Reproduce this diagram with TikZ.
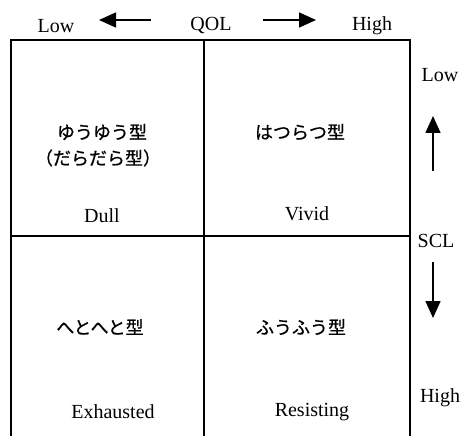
\documentclass[tikz,border=0pt]{standalone}
\usepackage{fontspec}
\setmainfont{Liberation Serif}
\newfontfamily\jp[FakeBold=0.8]{Noto Sans CJK JP}
\usetikzlibrary{arrows.meta}
\begin{document}
\begin{tikzpicture}[x=1pt,y=-1pt,
  frame/.style={line width=1.6pt},
  axarrow/.style={line width=1.6pt,-{Triangle[length=17pt,width=15pt]}},
  lab/.style={font=\fontsize{20}{22}\selectfont,inner sep=0pt},
  jlab/.style={font=\jp\fontsize{18}{22}\selectfont,inner sep=0pt,align=center}]
\useasboundingbox (0,0) rectangle (464,436);
% frame
\coordinate (tl) at (11,40);
\coordinate (tr) at (410,40);
\coordinate (bl) at (11,436);
\coordinate (br) at (410,436);
\coordinate (tm) at (204,40);
\coordinate (bm) at (204,436);
\coordinate (ml) at (11,236);
\coordinate (mr) at (410,236);
\draw[frame] (bl) -- (tl) -- (tr) -- (br);
\draw[frame] (tm) -- (bm);
\draw[frame] (ml) -- (mr);
% top axis
\node[lab] (qlow) at (56,26) {Low};
\node[lab] (qol) at (211,26) {QOL};
\node[lab] (qhigh) at (372,26) {High};
\coordinate (la0) at (151,20);
\coordinate (la1) at (99,20);
\coordinate (ra0) at (263,20);
\coordinate (ra1) at (316,20);
\draw[axarrow] (la0) -- (la1);
\draw[axarrow] (ra0) -- (ra1);
% right axis
\node[lab] (slow) at (440,75) {Low};
\node[lab] (scl) at (436,241) {SCL};
\node[lab] (shigh) at (440,398) {High};
\coordinate (ua0) at (433,171);
\coordinate (ua1) at (433,116);
\coordinate (da0) at (433,262);
\coordinate (da1) at (433,318);
\draw[axarrow] (ua0) -- (ua1);
\draw[axarrow] (da0) -- (da1);
% quadrants
\node[jlab] (q1) at (102,132) {ゆうゆう型};
\node[jlab] (q1b) at (98,158) {（だらだら型）};
\node[lab] (dull) at (102,216) {Dull};
\node[jlab] (q2) at (300,132) {はつらつ型};
\node[lab] (vivid) at (307,214) {Vivid};
\node[jlab] (q3) at (100,327) {へとへと型};
\node[lab] (exh) at (113,412) {Exhausted};
\node[jlab] (q4) at (301,327) {ふうふう型};
\node[lab] (res) at (312,412) {Resisting};
\end{tikzpicture}
\end{document}
